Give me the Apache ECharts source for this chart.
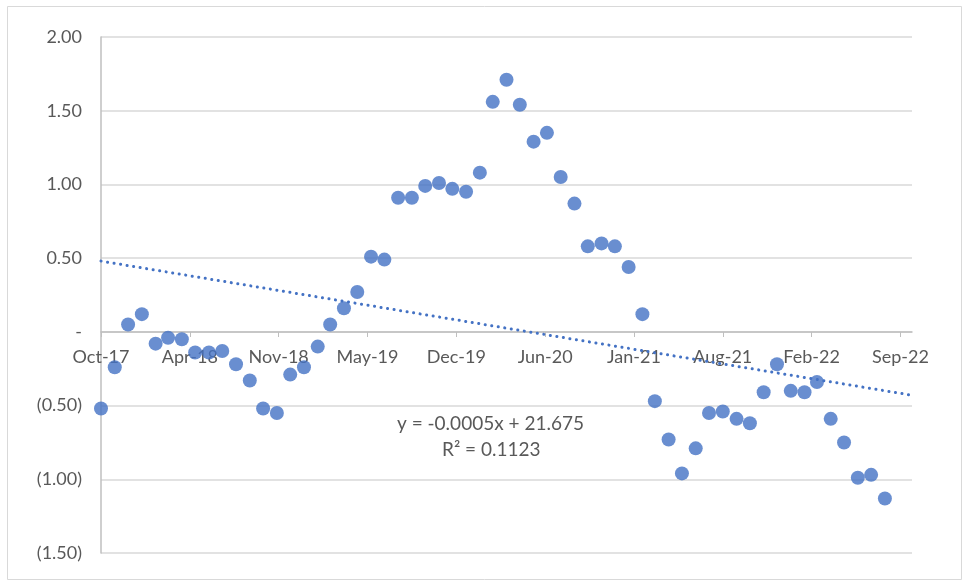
<!DOCTYPE html>
<html>
<head>
<meta charset="utf-8">
<script src="https://cdn.jsdelivr.net/npm/echarts@6/dist/echarts.min.js"></script>
<style>
html,body{margin:0;padding:0;background:#fff;}
#chart{width:963px;height:582px;}
</style>
</head>
<body>
<div id="chart"></div>
<script>
// Months of the observations (first of month)
var months = [
 '2017-10','2017-11','2017-12','2018-01','2018-02','2018-03','2018-04','2018-05','2018-06','2018-07',
 '2018-08','2018-09','2018-10','2018-11','2018-12','2019-01','2019-02','2019-03','2019-04','2019-05',
 '2019-06','2019-07','2019-08','2019-09','2019-10','2019-11','2019-12','2020-01','2020-02','2020-03',
 '2020-04','2020-05','2020-06','2020-07','2020-08','2020-09','2020-10','2020-11','2020-12','2021-01',
 '2021-02','2021-03','2021-04','2021-05','2021-06','2021-07','2021-08','2021-09','2021-10','2021-11',
 '2021-12','2022-01','2022-02','2022-03','2022-04','2022-05','2022-06','2022-07','2022-08'
];
var values = [
 -0.52,-0.24,0.05,0.12,-0.08,-0.04,-0.05,-0.14,-0.14,-0.13,
 -0.22,-0.33,-0.52,-0.55,-0.29,-0.24,-0.10,0.05,0.16,0.27,
 0.51,0.49,0.91,0.91,0.99,1.01,0.97,0.95,1.08,1.56,
 1.71,1.54,1.29,1.35,1.05,0.87,0.58,0.60,0.58,0.44,
 0.12,-0.47,-0.73,-0.96,-0.79,-0.55,-0.54,-0.59,-0.62,-0.41,
 -0.22,-0.40,-0.41,-0.34,-0.59,-0.75,-0.99,-0.97,-1.13
];
// Trendline values read at the axis start and end
var trendStartEnd = [0.48, -0.43];
var trendText = ['y = -0.0005x + 21.675', 'R\u00B2 = 0.1123'];
// x-axis: days from 1 Oct 2017, ticks every 200 days
var axisStart = '2017-10-01';
var axisEnd = '2022-10-01';
var xTicks = [0,200,400,600,800,1000,1200,1400,1600,1800];
var yTicks = [-1.5,-1,-0.5,0,0.5,1,1.5,2];

var MS_DAY = 86400000;
function dayOf(s){ var p = s.split('-'); return Date.UTC(+p[0], +p[1]-1, p[2] ? +p[2] : 1); }
var t0 = dayOf(axisStart);
var xMax = Math.round((dayOf(axisEnd) - t0)/MS_DAY);
var mon = ['Jan','Feb','Mar','Apr','May','Jun','Jul','Aug','Sep','Oct','Nov','Dec'];
function fmtX(v){
  var d = new Date(t0 + v*MS_DAY);
  return mon[d.getUTCMonth()] + '-' + String(d.getUTCFullYear()).slice(2);
}
function fmtY(v){
  if (Math.abs(v) < 1e-9) return '-';
  var s = Math.abs(v).toFixed(2);
  return v < 0 ? '(' + s + ')' : s;
}
var pts = months.map(function(m,i){ return [Math.round((dayOf(m)-t0)/MS_DAY), values[i]]; });

var txtColor = '#595959';
var dotColor = '#4472C4';
var font = 'Lato, "Liberation Sans", sans-serif';
var gridTop = 37, gridBottom = 29, H = 582;
var yMin = yTicks[0], yMax = yTicks[yTicks.length-1];
var plotH = H - gridTop - gridBottom;
// move the date axis up to the zero line (axis crosses at 0)
var zeroOffset = -Math.round(plotH * (0 - yMin) / (yMax - yMin));

var chart = echarts.init(document.getElementById('chart'), null, {renderer:'canvas'});
chart.setOption({
  animation:false,
  backgroundColor:'#fff',
  grid:{left:101, top:gridTop, right:51, bottom:gridBottom, containLabel:false},
  xAxis:{
    type:'value', min:0, max:xMax, interval:200,
    position:'bottom', offset:zeroOffset,
    axisLine:{onZero:false, lineStyle:{color:'#bfbfbf', width:1.5}},
    axisTick:{show:true, length:5, lineStyle:{color:'#bfbfbf'}, customValues:xTicks},
    axisLabel:{color:txtColor, fontSize:18, fontFamily:font, margin:16, formatter:fmtX, customValues:xTicks},
    splitLine:{show:false}
  },
  yAxis:{
    type:'value', min:yMin, max:yMax, interval:0.5,
    axisLine:{show:true, onZero:false, lineStyle:{color:'#bfbfbf', width:1.5}},
    axisTick:{show:false},
    axisLabel:{color:txtColor, fontSize:18, fontFamily:font, margin:19, formatter:fmtY},
    splitLine:{show:true, lineStyle:{color:'#d9d9d9', width:1.5}}
  },
  graphic:[
    {type:'rect', shape:{x:7.5, y:6.5, width:954, height:573}, style:{fill:'none', stroke:'#d9d9d9', lineWidth:1}, silent:true, z:-1},
    {type:'text', left:397, top:414, style:{text:trendText[0], fill:txtColor, font:'19px ' + font}},
    {type:'text', left:442, top:440, style:{text:trendText[1], fill:txtColor, font:'19px ' + font}}
  ],
  series:[
    {
      type:'line', data:[[0,trendStartEnd[0]],[xMax,trendStartEnd[1]]],
      symbol:'none', silent:true,
      lineStyle:{color:dotColor, width:3, type:[0.1,6.5], cap:'round'},
      z:1
    },
    {
      type:'scatter', data:pts, symbol:'circle', symbolSize:14,
      itemStyle:{color:dotColor}, z:3
    }
  ]
});
</script>
</body>
</html>
